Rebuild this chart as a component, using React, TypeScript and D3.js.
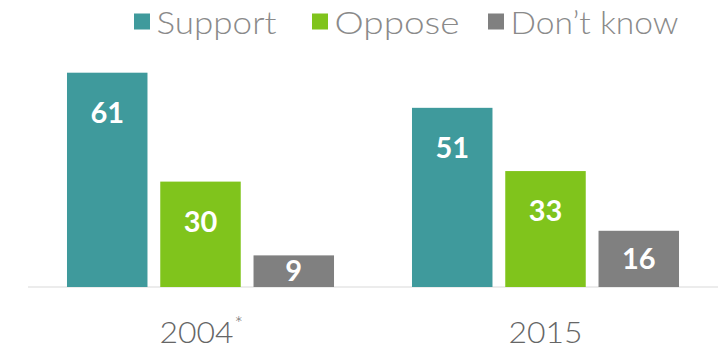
import React from "react";
import * as d3 from "d3";

const years = ["2004", "2015"];
const yearNotes = ["*", ""];
const seriesNames = ["Support", "Oppose", "Don't know"];
const support = [61, 51];
const oppose = [30, 33];
const dontKnow = [9, 16];
const colors = ["#3f9a9c", "#80c41c", "#808080"];
const legendX = [134, 312, 488];
const legendWidths = [120, 125, 168];

const W = 725;
const H = 348;

export default function App() {
  const seriesValues = [support, oppose, dontKnow];
  const x0 = d3.scaleBand<string>().domain(years).range([28, 718]).padding(0);
  const bw = x0.bandwidth();
  const x1 = d3
    .scaleBand<string>()
    .domain(seriesNames)
    .range([bw * 0.113, bw * 0.887])
    .paddingInner(0.137)
    .paddingOuter(0);
  const y = d3.scaleLinear().domain([0, 61]).range([287, 72.7]);

  const bars: any[] = [];
  years.forEach((yr, gi) => {
    seriesNames.forEach((s, si) => {
      const v = seriesValues[si][gi];
      bars.push({ yr, s, si, v });
    });
  });

  return (
    <svg
      width={W}
      height={H}
      style={{ position: "absolute", left: 0, top: 0, background: "#fff" }}
      fontFamily="Lato, 'Open Sans', sans-serif"
    >
      {/* legend */}
      {seriesNames.map((s, i) => (
        <g key={s}>
          <rect x={legendX[i]} y={13.5} width={16} height={16} fill={colors[i]} />
          <text
            x={legendX[i] + 22.5}
            y={33.5}
            fontSize={31}
            fontWeight={300}
            fill="#8a8a8a"
            textLength={legendWidths[i]}
            lengthAdjust="spacingAndGlyphs"
          >
            {s === "Don't know" ? "Don\u2019t know" : s}
          </text>
        </g>
      ))}

      {/* baseline */}
      <line x1={28} x2={718} y1={287} y2={287} stroke="#e6e6e6" strokeWidth={1.5} />

      {/* bars */}
      {bars.map((b) => {
        const bx = (x0(b.yr) as number) + (x1(b.s) as number);
        const top = y(b.v);
        const h = y(0) - top;
        const cy = top + Math.min(40, h / 2);
        return (
          <g key={b.yr + b.s}>
            <rect x={bx} y={top} width={x1.bandwidth()} height={h} fill={colors[b.si]} />
            <text
              x={bx + x1.bandwidth() / 2}
              y={cy + 10}
              textAnchor="middle"
              fontSize={29}
              fontWeight={700}
              fill="#fff"
            >
              {b.v}
            </text>
          </g>
        );
      })}

      {/* axis labels */}
      {years.map((yr, i) => {
        const cx = (x0(yr) as number) + bw / 2;
        const textW = 74;
        const left = cx - textW / 2 - (yearNotes[i] ? 4 : 0);
        return (
          <g key={yr}>
            <text
              x={left}
              y={343}
              fontSize={30}
              fontWeight={300}
              fill="#666"
              textLength={textW}
              lengthAdjust="spacingAndGlyphs"
            >
              {yr}
            </text>
            {yearNotes[i] ? (
              <text x={left + textW + 1} y={331} fontSize={20} fontWeight={300} fill="#666">
                {yearNotes[i]}
              </text>
            ) : null}
          </g>
        );
      })}
    </svg>
  );
}
